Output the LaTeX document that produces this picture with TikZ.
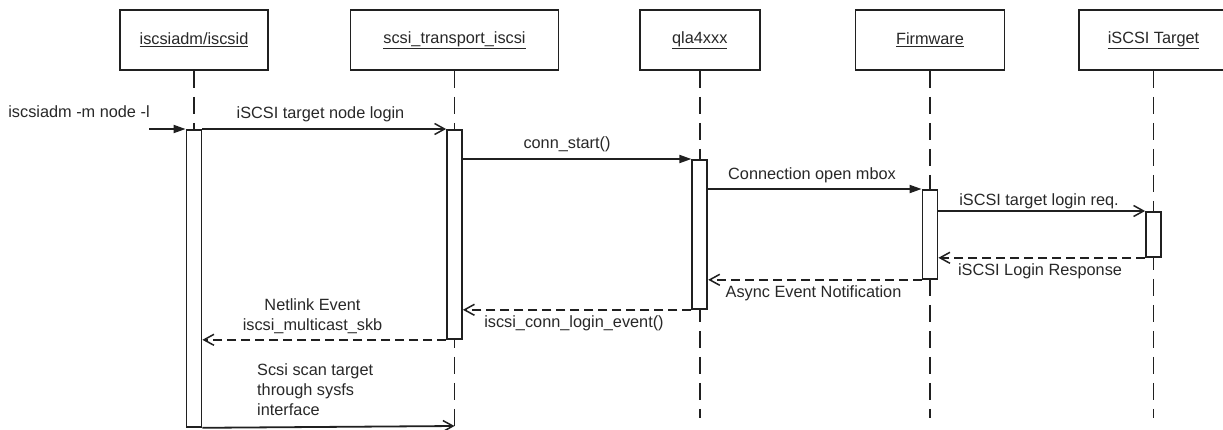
\documentclass[tikz,border=0pt]{standalone}
\usepackage{fontspec}
\setmainfont{Liberation Sans}
\usetikzlibrary{arrows.meta}
\definecolor{ink}{HTML}{202020}
\definecolor{txt}{HTML}{282828}
\begin{document}
\begin{tikzpicture}[x=1pt,y=-1pt,
  every node/.style={font=\fontsize{16.3}{20}\selectfont, text=txt},
  objbox/.style={draw=ink, line width=1.9pt, fill=white, minimum height=60pt, inner sep=0pt},
  actbar/.style={draw=ink, line width=1.8pt, fill=white, minimum width=15pt, inner sep=0pt, anchor=north},
  lifeline/.style={draw=ink, line width=1.6pt, dash pattern=on 17pt off 9pt},
  syncmsg/.style={draw=ink, line width=1.8pt, -{Triangle[length=12pt,width=8pt]}},
  callmsg/.style={draw=ink, line width=1.8pt, -{Straight Barb[length=10pt,width=11pt,line width=1.5pt]}},
  retmsg/.style={draw=ink, line width=1.8pt, dash pattern=on 9pt off 5pt, -{Straight Barb[length=10pt,width=11pt,line width=1.5pt]}},
  lbl/.style={inner sep=0pt}
]
\useasboundingbox (0,0) rectangle (1223,429);
\clip (0,0) rectangle (1223,429);
\fill[white] (0,0) rectangle (1223,429);

% object boxes
\node[objbox, minimum width=148.5pt] (b1) at (194,40) {\underline{iscsiadm/iscsid}};
\node[objbox, minimum width=208pt] (b2) at (454.5,40) {\underline{scsi\_transport\_iscsi}};
\node[objbox, minimum width=120.5pt] (b3) at (699.8,40) {\underline{qla4xxx}};
\node[objbox, minimum width=149pt] (b4) at (930,40) {\underline{Firmware}};
\node[objbox, minimum width=149pt] (b5) at (1153.5,40) {\underline{iSCSI Target}};

% lifeline end points
\coordinate (e2) at (454.5,426);
\coordinate (e3) at (699.8,418);
\coordinate (e4) at (930,418);
\coordinate (e5) at (1153.5,418);
\coordinate (s0) at (149,129);

% lifelines
\draw[lifeline] (b1.south) -- (194,129);
\draw[lifeline] (b2.south) -- (e2);
\draw[lifeline] (b3.south) -- (e3);
\draw[lifeline] (b4.south) -- (e4);
\draw[lifeline] (b5.south) -- (e5);

% activation bars
\node[actbar, minimum height=297pt] (a1) at (194,129) {};
\node[actbar, minimum height=209pt] (a2) at (454.5,129) {};
\node[actbar, minimum height=149pt] (a3) at (699.8,159) {};
\node[actbar, minimum height=89pt] (a4) at (930,189) {};
\node[actbar, minimum height=45pt] (a5) at (1153.5,211) {};

% messages
\draw[syncmsg] (s0) -- (a1.north west);
\draw[callmsg] (a1.north east) -- (a2.north west);
\draw[syncmsg] (a3.north west -| a2.east) -- (a3.north west);
\draw[syncmsg] (a4.north west -| a3.east) -- (a4.north west);
\draw[callmsg] (a5.north west -| a4.east) -- (a5.north west);
\draw[retmsg] (a5.south west) -- (a5.south west -| a4.east);
\draw[retmsg] (a4.south west) -- (a4.south west -| a3.east);
\draw[retmsg] (a3.south west) -- (a3.south west -| a2.east);
\draw[retmsg] (a2.south west) -- (a2.south west -| a1.east);
\draw[callmsg] (a1.south east) -- (e2);

% labels
\node[lbl, anchor=base] (l0) at (79,117.5) {iscsiadm -m node -l};
\node[lbl, anchor=base] (l1) at (320.5,118) {iSCSI target node login};
\node[lbl, anchor=base] (l2) at (567,148) {conn\_start()};
\node[lbl, anchor=base] (l3) at (812,179) {Connection open mbox};
\node[lbl, anchor=base] (l4) at (1039,205) {iSCSI target login req.};
\node[lbl, anchor=base] (l5) at (1040,275) {iSCSI Login Response};
\node[lbl, anchor=base] (l6) at (813.5,297) {Async Event Notification};
\node[lbl, anchor=base] (l7) at (574,327.5) {iscsi\_conn\_login\_event()};
\node[lbl, align=center] (l8) at (312.5,316) {Netlink Event\\iscsi\_multicast\_skb};
\node[lbl, align=left, anchor=west] (l9) at (257,390) {Scsi scan target\\through sysfs\\interface};
\end{tikzpicture}
\end{document}
